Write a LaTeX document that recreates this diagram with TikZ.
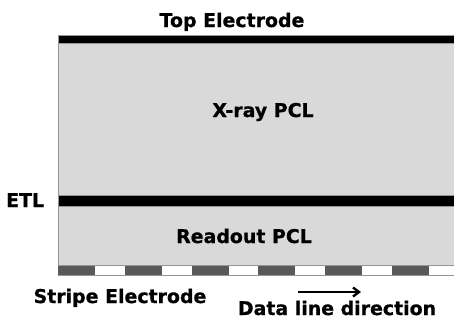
\documentclass[tikz,border=0pt]{standalone}
\usepackage{fontspec}
\setmainfont{DejaVu Sans}
\newfontfamily\heavyfont[FakeBold=0.8]{DejaVu Sans Bold}
\usetikzlibrary{arrows.meta}
\definecolor{layergray}{RGB}{217,217,217}
\definecolor{edgegray}{RGB}{150,150,150}
\definecolor{stripegray}{RGB}{89,89,89}
\tikzset{
  lbl/.style={font=\heavyfont\fontsize{19}{21}\selectfont, inner sep=0pt, anchor=base},
  layer/.style={fill=layergray, draw=edgegray, line width=0.8bp},
  bar/.style={fill=black, draw=edgegray, line width=0.6bp},
  stripe/.style={fill=stripegray, draw=none}
}
\begin{document}
\begin{tikzpicture}[x=1bp,y=-1bp]
\useasboundingbox (0,0) rectangle (454,320);
% layers
\fill[white] (58,265) rectangle (454.5,275);
\draw[edgegray, line width=0.8bp] (58,265) -- (58,275) -- (454.5,275);
\foreach \k in {0,...,5} {
  \fill[stripegray] ({58+66.8*\k},265) rectangle ({95+66.8*\k},275);
}
\draw[layer] (58,43) rectangle (455,265);
\draw[bar] (58,35) rectangle (455,43);
\draw[bar] (58,195) rectangle (455,206);
% labels
\node[lbl] (top) at (232,27) {Top Electrode};
\node[lbl] (xray) at (263,117) {X-ray PCL};
\node[lbl, anchor=base west] (etl) at (6,207) {ETL};
\node[lbl] (readout) at (244,243) {Readout PCL};
\node[lbl] (stripe) at (120,303) {Stripe Electrode};
\node[lbl] (data) at (337,315) {Data line direction};
\coordinate (a0) at (298,292);
\coordinate (a1) at (361,292);
\draw[line width=2.4bp, -{Straight Barb[length=6bp,width=9bp]}] (a0) -- (a1);
\end{tikzpicture}
\end{document}
